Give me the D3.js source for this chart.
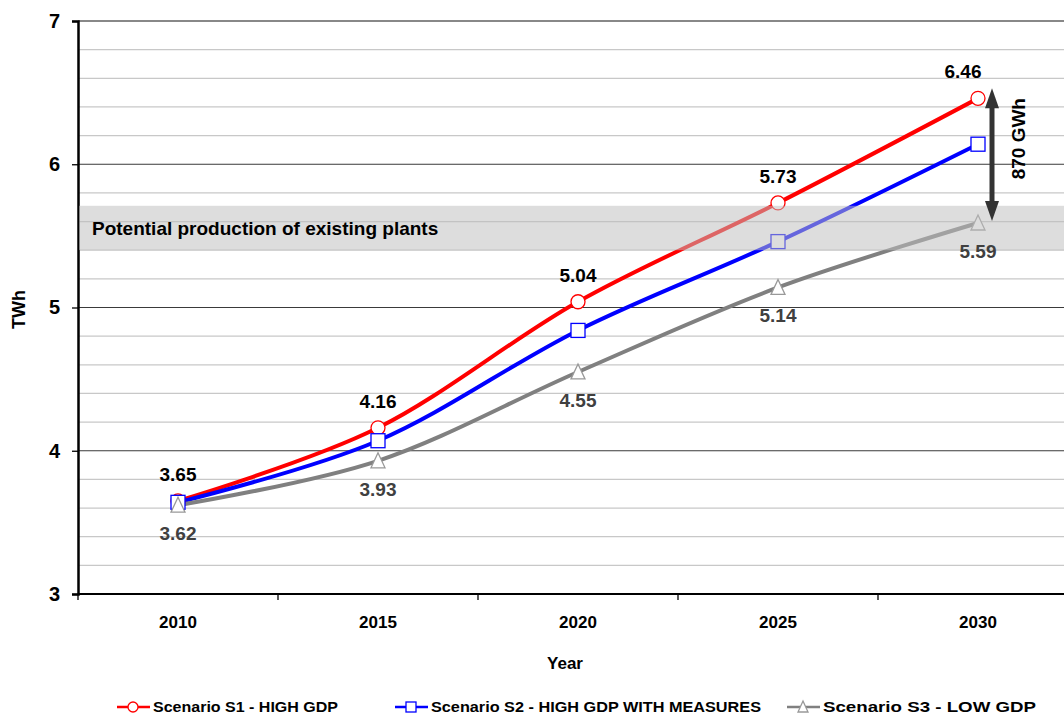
<!DOCTYPE html>
<html>
<head>
<meta charset="utf-8">
<script src="https://cdn.jsdelivr.net/npm/d3@7"></script>
<style>
  html, body { margin: 0; padding: 0; background: #fff; }
  svg { display: block; font-family: "Liberation Sans", Arial, sans-serif; }
</style>
</head>
<body>
<svg id="chart" width="1064" height="715"></svg>
<script>
// Electricity demand scenarios, TWh
const years = ["2010", "2015", "2020", "2025", "2030"];
const s1HighGdp = [3.65, 4.16, 5.04, 5.73, 6.46];
const s2HighGdpMeasures = [3.64, 4.07, 4.84, 5.46, 6.14];
const s3LowGdp = [3.62, 3.93, 4.55, 5.14, 5.59];
const yTicks = [3, 4, 5, 6, 7];
const existingPlantsBand = [5.40, 5.71];
const gapLabel = "870 GWh";

const seriesNames = [
  "Scenario S1 - HIGH GDP",
  "Scenario S2 - HIGH GDP WITH MEASURES",
  "Scenario S3 - LOW GDP"
];

const svg = d3.select("#chart");
const plotLeft = 78, plotTop = 21, plotBottom = 594, plotRight = 1078;

const x = d3.scaleBand().domain(years).range([plotLeft, plotRight]);
const y = d3.scaleLinear().domain([3, 7]).range([plotBottom, plotTop]);
const cx = d => x(d) + x.bandwidth() / 2;

// minor gridlines every 0.2
const minor = d3.range(3.2, 7, 0.2).filter(v => Math.abs(v - Math.round(v)) > 1e-6);
svg.append("g").selectAll("line").data(minor).join("line")
  .attr("x1", plotLeft).attr("x2", 1064)
  .attr("y1", d => y(d)).attr("y2", d => y(d))
  .attr("stroke", "#c8c8c8").attr("stroke-width", 1.3);

// major gridlines
svg.append("g").selectAll("line").data(yTicks.filter(v => v > 3 && v < 7)).join("line")
  .attr("x1", plotLeft).attr("x2", 1064)
  .attr("y1", d => y(d)).attr("y2", d => y(d))
  .attr("stroke", "#3a3a3a").attr("stroke-width", 1);
svg.append("line")
  .attr("x1", plotLeft).attr("x2", 1064).attr("y1", y(7)).attr("y2", y(7))
  .attr("stroke", "#888").attr("stroke-width", 2);

// y axis
const yAxis = svg.append("g").attr("transform", `translate(${plotLeft},0)`)
  .call(d3.axisLeft(y).tickValues(yTicks).tickFormat(d3.format("d")).tickSize(6).tickPadding(12));
yAxis.select(".domain").attr("stroke", "#000").attr("stroke-width", 2.5);
yAxis.selectAll(".tick line").attr("stroke", "#000").attr("stroke-width", 1.3);
yAxis.selectAll(".tick text").attr("font-size", 20).attr("font-weight", "bold")
  .attr("fill", "#000").attr("font-family", "Liberation Sans, Arial, sans-serif");

// x axis with ticks between categories
const xAxis = svg.append("g").attr("transform", `translate(0,${plotBottom})`);
xAxis.append("line").attr("x1", plotLeft).attr("x2", 1064)
  .attr("stroke", "#000").attr("stroke-width", 2);
xAxis.selectAll("line.tk").data(years).join("line").attr("class", "tk")
  .attr("x1", d => x(d)).attr("x2", d => x(d)).attr("y1", 0).attr("y2", 6)
  .attr("stroke", "#000").attr("stroke-width", 1.3);
xAxis.selectAll("text").data(years).join("text")
  .attr("x", d => cx(d)).attr("y", 34)
  .attr("text-anchor", "middle").attr("font-size", 17).attr("font-weight", "bold")
  .text(d => d);

// axis titles
svg.append("text").attr("x", 565).attr("y", 669).attr("text-anchor", "middle")
  .attr("font-size", 17).attr("font-weight", "bold").text("Year");
svg.append("text").attr("transform", `translate(25,${(plotTop + plotBottom) / 2 + 2}) rotate(-90)`)
  .attr("text-anchor", "middle").attr("font-size", 18).attr("font-weight", "bold").text("TWh");

// series
const series = [
  { name: seriesNames[0], values: s1HighGdp, color: "#ff0000", marker: "circle", mstroke: "#ff0000" },
  { name: seriesNames[1], values: s2HighGdpMeasures, color: "#0000ff", marker: "square", mstroke: "#0000ff" },
  { name: seriesNames[2], values: s3LowGdp, color: "#808080", marker: "triangle", mstroke: "#999999" }
];

const line = d3.line()
  .x((d, i) => cx(years[i]))
  .y(d => y(d))
  .curve(d3.curveCatmullRom.alpha(0));

function drawMarker(g, type, px, py, size, stroke) {
  if (type === "circle") {
    g.append("circle").attr("cx", px).attr("cy", py).attr("r", size / 2)
      .attr("fill", "#fff").attr("stroke", stroke).attr("stroke-width", 1.3);
  } else if (type === "square") {
    g.append("rect").attr("x", px - size / 2).attr("y", py - size / 2)
      .attr("width", size).attr("height", size)
      .attr("fill", "#fff").attr("stroke", stroke).attr("stroke-width", 1.3);
  } else {
    const h = size;
    g.append("path")
      .attr("d", `M${px},${py - h / 2 - 1}L${px + size / 2},${py + h / 2}L${px - size / 2},${py + h / 2}Z`)
      .attr("fill", "#fff").attr("stroke", stroke).attr("stroke-width", 1.3);
  }
}

const plot = svg.append("g");
series.forEach(s => {
  plot.append("path").datum(s.values).attr("d", line)
    .attr("fill", "none").attr("stroke", s.color).attr("stroke-width", 4)
    .attr("stroke-linejoin", "round");
});
series.forEach(s => {
  const g = plot.append("g");
  s.values.forEach((v, i) => drawMarker(g, s.marker, cx(years[i]), y(v), 14, s.mstroke));
});

// existing plants band (translucent overlay)
svg.append("rect")
  .attr("x", plotLeft + 1).attr("width", 1064 - plotLeft)
  .attr("y", y(existingPlantsBand[1]))
  .attr("height", y(existingPlantsBand[0]) - y(existingPlantsBand[1]))
  .attr("fill", "rgb(190,190,190)").attr("fill-opacity", 0.53);
svg.append("text").attr("x", 92).attr("y", y((existingPlantsBand[0] + existingPlantsBand[1]) / 2) + 7)
  .attr("font-size", 19).attr("font-weight", "bold").attr("fill", "#000")
  .text("Potential production of existing plants");

// data labels
const fmt = d3.format(".2f");
svg.append("g").selectAll("text").data(s1HighGdp).join("text")
  .attr("x", (d, i) => cx(years[i]) - (i === years.length - 1 ? 15 : 0))
  .attr("y", d => y(d) - 20)
  .attr("text-anchor", "middle").attr("font-size", 19).attr("font-weight", "bold")
  .attr("fill", "#000").text(d => fmt(d));
svg.append("g").selectAll("text").data(s3LowGdp).join("text")
  .attr("x", (d, i) => cx(years[i]))
  .attr("y", d => y(d) + 35)
  .attr("text-anchor", "middle").attr("font-size", 19).attr("font-weight", "bold")
  .attr("fill", "#404040").text(d => fmt(d));

// gap arrow between highest and lowest scenario in 2030
const ax = 992;
const yTop = y(s1HighGdp[4]) - 10, yBot = y(s3LowGdp[4]) - 2;
const arrow = svg.append("g").attr("fill", "#333");
arrow.append("line").attr("x1", ax).attr("x2", ax).attr("y1", yTop + 15).attr("y2", yBot - 15)
  .attr("stroke", "#333").attr("stroke-width", 5);
arrow.append("path").attr("d", `M${ax},${yTop}L${ax + 7},${yTop + 20}L${ax - 7},${yTop + 20}Z`);
arrow.append("path").attr("d", `M${ax},${yBot}L${ax + 7},${yBot - 20}L${ax - 7},${yBot - 20}Z`);
svg.append("text").attr("transform", `translate(1025,${(yTop + yBot) / 2 - 16}) rotate(-90)`)
  .attr("text-anchor", "middle").attr("font-size", 19).attr("font-weight", "bold")
  .text(gapLabel);

// legend
const legendX = [117, 395, 787];
const legendW = [185, 330, 213];
const legend = svg.append("g");
series.forEach((s, i) => {
  const lx = legendX[i], ly = 707;
  legend.append("line").attr("x1", lx).attr("x2", lx + 33).attr("y1", ly).attr("y2", ly)
    .attr("stroke", s.color).attr("stroke-width", 2.5);
  drawMarker(legend, s.marker, lx + 16, ly, 10, s.mstroke);
  legend.append("text").attr("x", lx + 36).attr("y", ly + 5)
    .attr("font-size", 14).attr("font-weight", "bold")
    .attr("font-family", "'Liberation Sans Narrow', 'Liberation Sans', Arial, sans-serif")
    .attr("textLength", legendW[i]).attr("lengthAdjust", "spacingAndGlyphs")
    .text(s.name);
});
</script>
</body>
</html>
